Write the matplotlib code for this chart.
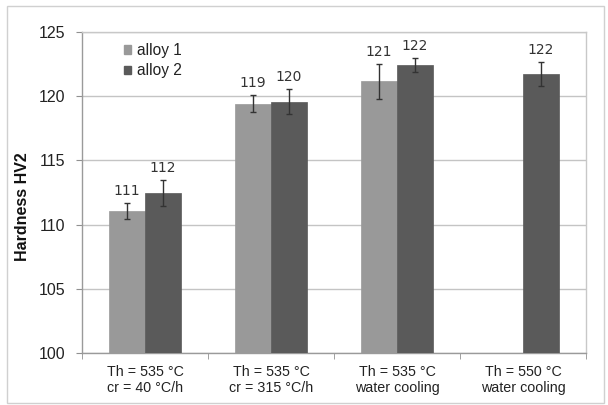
import numpy as np
import matplotlib
matplotlib.use("Agg")
import matplotlib.pyplot as plt
from matplotlib.patches import Patch, Rectangle

categories = ["Th = 535 °C\ncr = 40 °C/h", "Th = 535 °C\ncr = 315 °C/h",
              "Th = 535 °C\nwater cooling", "Th = 550 °C\nwater cooling"]
series_names = ["alloy 1", "alloy 2"]
alloy1 = [111.05, 119.42, 121.15, np.nan]
alloy2 = [112.44, 119.57, 122.42, 121.72]
alloy1_err = [0.62, 0.66, 1.33, np.nan]
alloy2_err = [1.02, 0.97, 0.55, 0.95]
colors = ["#999999", "#5a5a5a"]
yticks = [100, 105, 110, 115, 120, 125]

plt.rcParams['font.family'] = ['Liberation Sans', 'DejaVu Sans']

fig = plt.figure(figsize=(6.08, 4.05), dpi=100)
ax = fig.add_axes([82/608, 1-353/405, 504/608, 321/405])

# outer frame
fig.patches.append(Rectangle((7/608, 2/405), 597/608, 397/405, transform=fig.transFigure,
                             fill=False, edgecolor="#d0d0d0", linewidth=1.0))

x = np.arange(len(categories))
w = 0.283
for i, (vals, errs) in enumerate([(alloy1, alloy1_err), (alloy2, alloy2_err)]):
    pos = x + (i - 0.5) * w
    v = np.array(vals, dtype=float)
    e = np.array(errs, dtype=float)
    ax.bar(pos, v - 100, bottom=100, width=w, color=colors[i], edgecolor=colors[i],
           linewidth=0.5, zorder=3)
    ax.errorbar(pos, v, yerr=e, fmt='none', ecolor="#333333", elinewidth=1.0,
                capsize=2.5, capthick=1.0, zorder=4)
    for px, vv, ee in zip(pos, v, e):
        if np.isnan(vv):
            continue
        ax.annotate(f"{vv:.0f}", (px, vv + ee), xytext=(0, 6), textcoords="offset points",
                    ha="center", va="baseline", fontsize=10, color="#333333",
                    family=['DejaVu Sans'])

ax.set_ylim(100, 125)
ax.set_xlim(-0.5, len(categories) - 0.5)
ax.set_yticks(yticks)
ax.set_yticklabels([str(t) for t in yticks], fontsize=11.5, color="#222222")
ax.yaxis.grid(True, color="#c4c4c4", linewidth=1.0, zorder=0)
ax.set_axisbelow(True)

ax.set_xticks(x)
ax.set_xticklabels(categories, fontsize=10.3, color="#222222", linespacing=1.15)
ax.set_xticks(np.arange(-0.5, len(categories)), minor=True)
ax.tick_params(axis='x', which='major', length=0, pad=9)
ax.tick_params(axis='x', which='minor', length=4, color="#909090", direction='out')
ax.tick_params(axis='y', length=4, color="#909090", direction='out', pad=8)

for s in ["top", "right"]:
    ax.spines[s].set_color("#c8c8c8")
for s in ["left", "bottom"]:
    ax.spines[s].set_color("#9a9a9a")
for s in ax.spines.values():
    s.set_linewidth(1.0)

fig.text(23/608, 1-207/405, "Hardness HV2", rotation=90, ha="center", va="center",
         fontsize=11.5, fontweight="bold", color="#111111")

handles = [Patch(facecolor=c, edgecolor=c) for c in colors]
ax.legend(handles, series_names, loc="upper left", bbox_to_anchor=(0.083, 0.966),
          frameon=False, fontsize=11.2, handlelength=0.45, handleheight=0.45,
          handletextpad=0.4, labelspacing=0.35, borderpad=0, borderaxespad=0,
          labelcolor="#222222")

fig.savefig("out.png", dpi=100)
